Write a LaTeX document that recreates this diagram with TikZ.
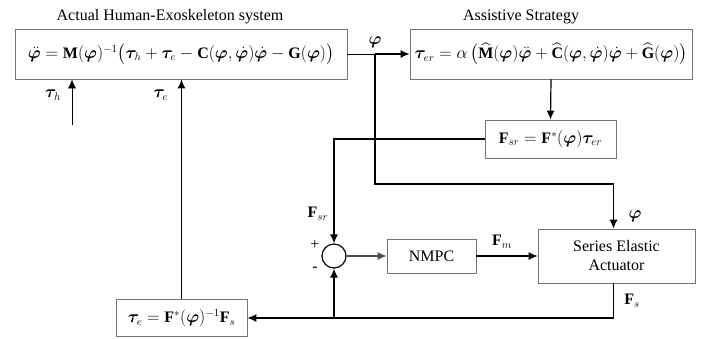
\documentclass[tikz,border=0pt]{standalone}
\usepackage{amsmath}
\usepackage{bm}
\usepackage{fontspec}
\setmainfont{Liberation Serif}
\usepackage{tikz}
\usetikzlibrary{arrows.meta}
\tikzstyle{sysbox}=[rectangle,
	draw=black!55,
	thick,
	fill=white,
	inner sep=2pt]
\tikzstyle{sumpoint}=[circle,
	draw=black,
	line width=1.2pt,
	minimum size=24pt,
	inner sep=0pt]
\tikzstyle{signal}=[-{Latex[length=9pt,width=8pt]},
	line width=1.2pt]
\tikzstyle{lbl}=[inner sep=1pt]
\newcommand{\vphi}{\bm{\varphi}}
\newcommand{\vtau}{\bm{\tau}}

\begin{document}
\begin{tikzpicture}[x=1pt,y=-1pt,font=\fontsize{16}{19}\selectfont]
					\useasboundingbox (0,0) rectangle (701,338);
					% plant and assistive strategy
					\node (plant) [sysbox, minimum width=332pt, minimum height=50pt] at (181,54)
						{$\ddot{\vphi} = \mathbf{M}(\vphi)^{-1}\big(\vtau_h + \vtau_e - \mathbf{C}(\vphi,\dot{\vphi})\dot{\vphi} - \mathbf{G}(\vphi)\big)$};
					\node (planttitle) [lbl] at (170,17) {Actual Human-Exoskeleton system};
					\node (assist) [sysbox, minimum width=282pt, minimum height=50pt] at (551,54)
						{$\vtau_{er} = \alpha\left(\widehat{\mathbf{M}}(\vphi)\ddot{\vphi} + \widehat{\mathbf{C}}(\vphi,\dot{\vphi})\dot{\vphi} + \widehat{\mathbf{G}}(\vphi)\right)$};
					\node (assisttitle) [lbl] at (521,17) {Assistive Strategy};
					\node (fsr) [sysbox, minimum width=131pt, minimum height=38pt] at (550.5,139)
						{$\mathbf{F}_{sr} = \mathbf{F}^{*}(\vphi)\vtau_{er}$};

					% inner force loop
					\node (sum) [sumpoint] at (334,256) {};
					\node (nmpc) [sysbox, minimum width=89pt, minimum height=34pt] at (431.5,256) {NMPC};
					\node (sea) [sysbox, minimum width=157pt, minimum height=54pt, align=center] at (616.5,256)
						{Series Elastic\\Actuator};
					\node (taue) [sysbox, minimum width=131pt, minimum height=37pt] at (181.5,318)
						{$\vtau_e = \mathbf{F}^{*}(\vphi)^{-1}\mathbf{F}_s$};

					% connectors
					\coordinate (phibranch) at (375,54);
					\coordinate (phiturn) at (375,184);
					\draw[semithick] (plant.east) -- (phibranch);
					\draw[signal] (phibranch) -- (assist.west);
					\node (philbl) [lbl] at (375,42) {$\vphi$};
					\draw[signal] (phibranch) -- (phiturn) -| ([xshift=-3pt]sea.north);
					\node (phisea) [lbl] at (635,216) {$\vphi$};
					\draw[signal] (assist.south) -- (fsr.north);
					\draw[signal] (fsr.west) -| (sum.north);
					\node (fsrlbl) [lbl] at (318,214) {$\mathbf{F}_{sr}$};
					\node (plus) [lbl] at (315,245) {+};
					\node (minus) [lbl] at (315,269) {-};
					\draw[signal, draw=black!70] (sum.east) -- (nmpc.west);
					\draw[signal] (nmpc.east) -- (sea.west);
					\node (fmlbl) [lbl] at (502,242) {$\mathbf{F}_m$};
					\draw[signal] ([xshift=-3pt]sea.south) |- (taue.east);
					\node (fslbl) [lbl] at (632,301) {$\mathbf{F}_s$};
					\coordinate (fb) at (sum |- taue.east);
					\draw[signal] (fb) -- (sum.south);
					\draw[signal] (taue.north) -- (taue.north |- plant.south);
					\node (tauelbl) [lbl] at (161,95) {$\vtau_e$};
					\coordinate (tauh) at (72,125);
					\draw[signal, semithick] (tauh) -- (tauh |- plant.south);
					\node (tauhlbl) [lbl] at (53,95) {$\vtau_h$};
				\end{tikzpicture}
\end{document}
